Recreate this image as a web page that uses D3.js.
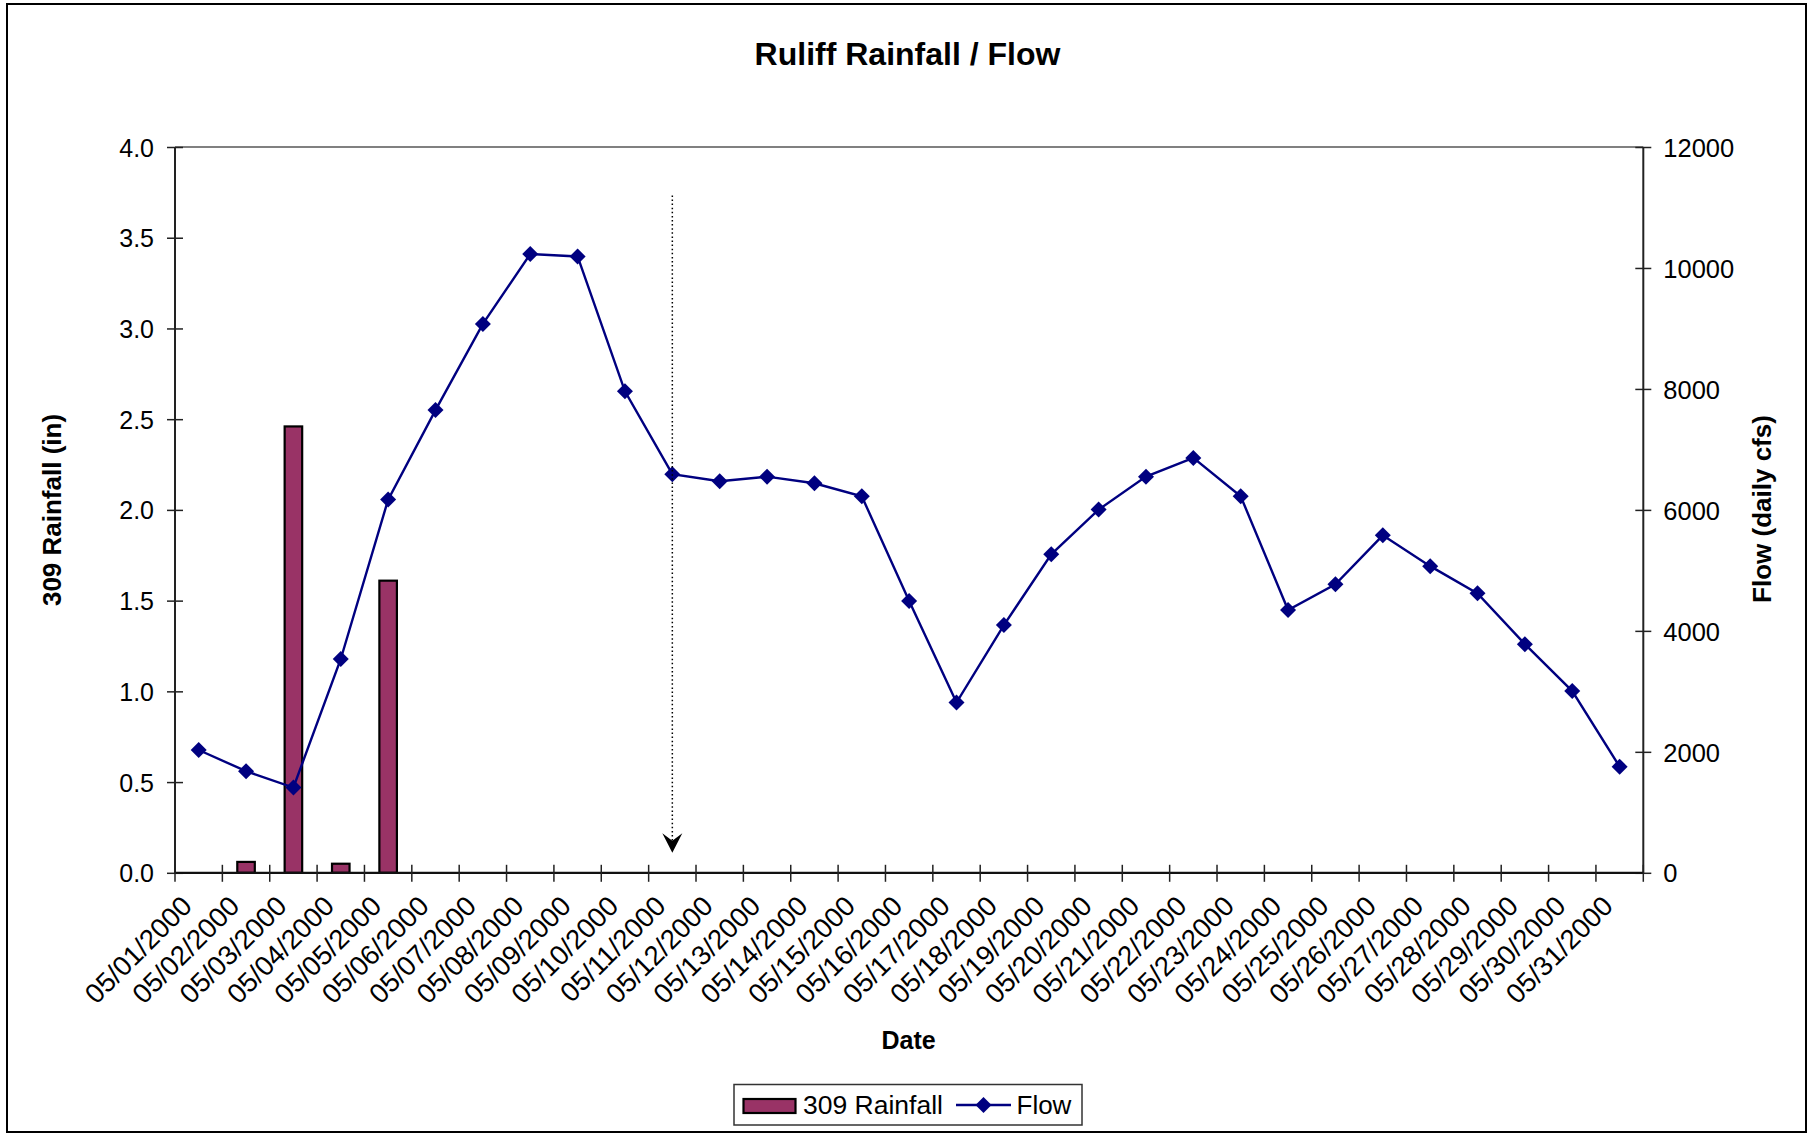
<!DOCTYPE html>
<html>
<head>
<meta charset="utf-8">
<script src="https://cdn.jsdelivr.net/npm/d3@7"></script>
<style>
  html, body { margin: 0; padding: 0; background: #fff; }
  svg { display: block; }
  text { font-family: "Liberation Sans", Arial, Helvetica, sans-serif; fill: #000; }
</style>
</head>
<body>
<svg id="chart" width="1815" height="1135"></svg>
<script>
// ---------- data ----------
const dates = [
  "05/01/2000","05/02/2000","05/03/2000","05/04/2000","05/05/2000","05/06/2000",
  "05/07/2000","05/08/2000","05/09/2000","05/10/2000","05/11/2000","05/12/2000",
  "05/13/2000","05/14/2000","05/15/2000","05/16/2000","05/17/2000","05/18/2000",
  "05/19/2000","05/20/2000","05/21/2000","05/22/2000","05/23/2000","05/24/2000",
  "05/25/2000","05/26/2000","05/27/2000","05/28/2000","05/29/2000","05/30/2000",
  "05/31/2000"
];
const rainfall = [0, 0.06, 2.46, 0.05, 1.61, 0, 0, 0, 0, 0, 0, 0, 0, 0, 0, 0,
  0, 0, 0, 0, 0, 0, 0, 0, 0, 0, 0, 0, 0, 0, 0];
const flow = [2030, 1680, 1410, 3535, 6170, 7650, 9075, 10230, 10190, 7960,
  6590, 6475, 6550, 6440, 6225, 4495, 2815, 4095, 5265, 6005, 6550, 6860,
  6225, 4345, 4770, 5580, 5070, 4620, 3780, 3005, 1755];
const rainTicks = [0, 0.5, 1.0, 1.5, 2.0, 2.5, 3.0, 3.5, 4.0];
const flowTicks = [0, 2000, 4000, 6000, 8000, 10000, 12000];
const titleText = "Ruliff Rainfall / Flow";
const leftTitle = "309 Rainfall (in)";
const rightTitle = "Flow (daily cfs)";
const xTitle = "Date";
const seriesNames = ["309 Rainfall", "Flow"];
// annotation arrow (marks 05/11/2000), extent in flow units
const annotationDate = "05/11/2000";
const annotationFlowTop = 11200;
const annotationFlowTip = 330;

// ---------- layout ----------
const svg = d3.select("#chart");
const plot = { left: 175, right: 1643.3, top: 147, bottom: 872.8 };
const barColor = "#993366";
const lineColor = "#000080";

const x = d3.scaleBand().domain(dates).range([plot.left, plot.right]).padding(0);
const yL = d3.scaleLinear().domain([0, 4]).range([plot.bottom, plot.top]);
const yR = d3.scaleLinear().domain([0, 12000]).range([plot.bottom, plot.top]);

// outer border
svg.append("rect").attr("x", 7).attr("y", 4).attr("width", 1799).attr("height", 1128)
  .attr("fill", "#fff").attr("stroke", "#000").attr("stroke-width", 2);

// title
svg.append("text").attr("x", 907.5).attr("y", 65).attr("text-anchor", "middle")
  .attr("font-size", 32).attr("font-weight", "bold").text(titleText);

// plot top border (gray)
svg.append("line").attr("x1", plot.left).attr("x2", plot.right)
  .attr("y1", plot.top).attr("y2", plot.top)
  .attr("stroke", "#808080").attr("stroke-width", 2);

// bars
const bw = x.bandwidth() * 0.37;
svg.append("g").selectAll("rect").data(dates.map((d, i) => ({ d, v: rainfall[i] })).filter(o => o.v > 0))
  .join("rect")
  .attr("x", o => x(o.d) + x.bandwidth() / 2 - bw / 2)
  .attr("y", o => yL(o.v))
  .attr("width", bw)
  .attr("height", o => yL(0) - yL(o.v))
  .attr("fill", barColor).attr("stroke", "#000").attr("stroke-width", 2.2);

// flow line
const line = d3.line().x((v, i) => x(dates[i]) + x.bandwidth() / 2).y(v => yR(v));
svg.append("path").datum(flow).attr("d", line)
  .attr("fill", "none").attr("stroke", lineColor).attr("stroke-width", 2.4);

const diamond = d3.symbol().type(d3.symbolSquare).size(128);
svg.append("g").selectAll("path").data(flow).join("path")
  .attr("d", diamond)
  .attr("transform", (v, i) => `translate(${x(dates[i]) + x.bandwidth() / 2},${yR(v)}) rotate(45)`)
  .attr("fill", lineColor);

// annotation arrow
const ax = x(annotationDate) + x.bandwidth() / 2;
const tipY = yR(annotationFlowTip);
svg.append("line").attr("x1", ax).attr("x2", ax)
  .attr("y1", yR(annotationFlowTop)).attr("y2", tipY - 12)
  .attr("stroke", "#000").attr("stroke-width", 1.5).attr("stroke-dasharray", "1.5 2.6");
svg.append("path")
  .attr("d", `M${ax},${tipY} L${ax - 10},${tipY - 19.5} L${ax},${tipY - 12} L${ax + 10},${tipY - 19.5} Z`)
  .attr("fill", "#000");

// axes
const axisColor = "#222";
// left axis
const gL = svg.append("g").attr("transform", `translate(${plot.left},0)`);
gL.call(d3.axisLeft(yL).tickValues(rainTicks).tickSize(0).tickFormat(d3.format(".1f")));
gL.select(".domain").remove();
gL.append("line").attr("y1", plot.top).attr("y2", plot.bottom + 1).attr("stroke", axisColor).attr("stroke-width", 2);
gL.selectAll(".tick").append("line").attr("x1", -8).attr("x2", 8).attr("stroke", axisColor).attr("stroke-width", 1.5);
gL.selectAll(".tick text").attr("x", -21).attr("dy", "0.36em").attr("font-size", 25)
  .attr("font-family", "Liberation Sans, Arial, sans-serif").attr("fill", "#000");

// right axis
const gR = svg.append("g").attr("transform", `translate(${plot.right},0)`);
gR.call(d3.axisRight(yR).tickValues(flowTicks).tickSize(0).tickFormat(d3.format("d")));
gR.select(".domain").remove();
gR.append("line").attr("y1", plot.top).attr("y2", plot.bottom + 1).attr("stroke", axisColor).attr("stroke-width", 2);
gR.selectAll(".tick").append("line").attr("x1", -8).attr("x2", 8).attr("stroke", axisColor).attr("stroke-width", 1.5);
gR.selectAll(".tick text").attr("x", 20).attr("dy", "0.36em").attr("font-size", 25.5)
  .attr("font-family", "Liberation Sans, Arial, sans-serif").attr("fill", "#000");

// bottom axis
const gB = svg.append("g").attr("transform", `translate(0,${plot.bottom})`);
gB.append("line").attr("x1", plot.left).attr("x2", plot.right).attr("stroke", "#111").attr("stroke-width", 2.2);
const boundaries = dates.map(d => x(d)).concat([x(dates[dates.length - 1]) + x.bandwidth()]);
gB.selectAll("line.tk").data(boundaries).join("line").attr("class", "tk")
  .attr("x1", d => d).attr("x2", d => d).attr("y1", -8).attr("y2", 9)
  .attr("stroke", axisColor).attr("stroke-width", 1.5);
gB.selectAll("text").data(dates).join("text")
  .attr("text-anchor", "end")
  .attr("font-size", 27.5)
  .attr("transform", d => `translate(${x(d) + x.bandwidth() / 2 - 5},35) rotate(-45)`)
  .text(d => d);

// axis titles
svg.append("text").attr("transform", `translate(61,510) rotate(-90)`)
  .attr("text-anchor", "middle").attr("font-size", 26).attr("font-weight", "bold").text(leftTitle);
svg.append("text").attr("transform", `translate(1771,509) rotate(-90)`)
  .attr("text-anchor", "middle").attr("font-size", 26).attr("font-weight", "bold").text(rightTitle);
svg.append("text").attr("x", 908.6).attr("y", 1049).attr("text-anchor", "middle")
  .attr("font-size", 25).attr("font-weight", "bold").text(xTitle);

// legend
const lg = svg.append("g");
lg.append("rect").attr("x", 734).attr("y", 1084.5).attr("width", 348).attr("height", 40.5)
  .attr("fill", "#fff").attr("stroke", "#333").attr("stroke-width", 1.5);
lg.append("rect").attr("x", 743.5).attr("y", 1099).attr("width", 52).attr("height", 14)
  .attr("fill", barColor).attr("stroke", "#000").attr("stroke-width", 2.2);
lg.append("text").attr("x", 803).attr("y", 1114).attr("font-size", 26.5).text(seriesNames[0]);
lg.append("line").attr("x1", 956).attr("x2", 1011).attr("y1", 1105).attr("y2", 1105)
  .attr("stroke", lineColor).attr("stroke-width", 2.4);
lg.append("path").attr("d", diamond).attr("transform", "translate(983.5,1105) rotate(45)").attr("fill", lineColor);
lg.append("text").attr("x", 1016.5).attr("y", 1114).attr("font-size", 26).text(seriesNames[1]);
</script>
</body>
</html>
